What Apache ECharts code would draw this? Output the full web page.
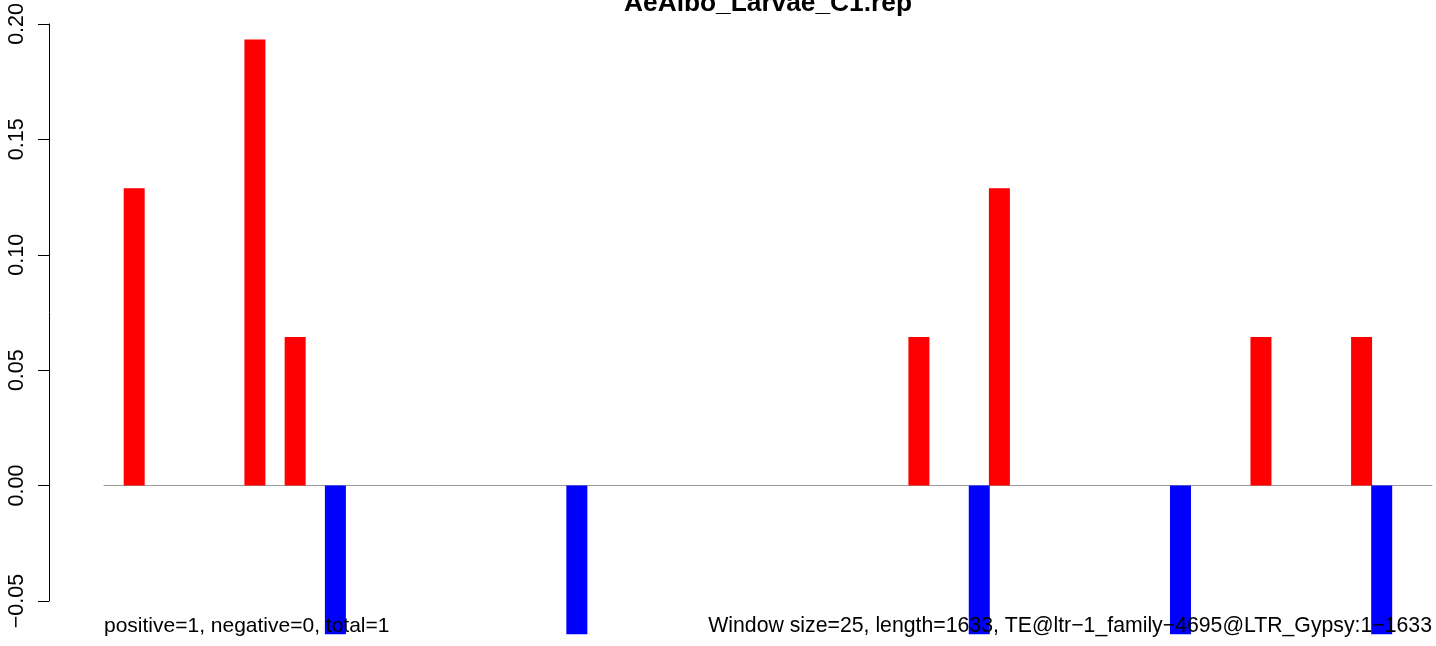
<!DOCTYPE html>
<html>
<head>
<meta charset="utf-8">
<script src="https://cdn.jsdelivr.net/npm/echarts@6/dist/echarts.min.js"></script>
<style>html,body{margin:0;padding:0;background:#fff;}#c{width:1436px;height:646px;}</style>
</head>
<body>
<div id="c"></div>
<script>
// 66 windows of 25 bp over a 1633 bp element
const windowCount = 66;
const categories = Array.from({length: windowCount}, (_, i) => String(i + 1));
// window index -> value (positive strand, red)
const positiveWindows = [1, 7, 9, 40, 44, 57, 62];
const positiveValues  = [0.1288, 0.1932, 0.0644, 0.0644, 0.1288, 0.0644, 0.0644];
// window index -> value (negative strand, blue)
const negativeWindows = [11, 23, 43, 53, 63];
const negativeValues  = [-0.0644, -0.0644, -0.0644, -0.0644, -0.0644];
const yTicks = [-0.05, 0.00, 0.05, 0.10, 0.15, 0.20];

const titleText = 'AeAlbo_Larvae_C1.rep';
const leftNote = 'positive=1, negative=0, total=1';
const rightNote = 'Window size=25, length=1633, TE@ltr\u22121_family\u22124695@LTR_Gypsy:1\u22121633';

const posData = categories.map(() => '-');
positiveWindows.forEach((w, k) => { posData[w] = positiveValues[k]; });
const negData = categories.map(() => '-');
negativeWindows.forEach((w, k) => { negData[w] = negativeValues[k]; });

const FONT = '"Liberation Sans", Arial, sans-serif';
const chart = echarts.init(document.getElementById('c'), null, {renderer: 'canvas'});
chart.setOption({
  animation: false,
  backgroundColor: '#fff',
  grid: {left: 104, right: 4, top: 22, bottom: 45, containLabel: false},
  xAxis: {
    type: 'category',
    data: categories,
    boundaryGap: true,
    axisLine: {show: true, onZero: true, lineStyle: {color: '#9a9a9a', width: 1}},
    axisTick: {show: false},
    axisLabel: {show: false},
    splitLine: {show: false}
  },
  yAxis: {
    type: 'value',
    min: -0.05, max: 0.2, interval: 0.05,
    offset: 55,
    axisLine: {show: true, lineStyle: {color: '#000', width: 1}},
    axisTick: {show: true, length: 11, lineStyle: {color: '#000'}},
    splitLine: {show: false},
    axisLabel: {
      rotate: 90, margin: 21, color: '#000', fontSize: 21.5, fontFamily: FONT,
      formatter: v => {
        const t = yTicks.find(x => Math.abs(x - v) < 1e-9);
        const s = (t === undefined ? v : t).toFixed(2);
        return s.replace('-', '\u2212');
      }
    }
  },
  series: [
    {type: 'bar', data: posData, barWidth: 21, barGap: '-100%', clip: false,
     itemStyle: {color: '#ff0000'}, silent: true},
    {type: 'bar', data: negData, barWidth: 21, barGap: '-100%', clip: false,
     itemStyle: {color: '#0000ff'}, silent: true}
  ],
  graphic: [
    {type: 'text', z: 100, style: {text: titleText, x: 768, y: 4, align: 'center', verticalAlign: 'middle',
      font: 'bold 26.3px ' + FONT, fill: '#000'}},
    {type: 'text', z: 100, style: {text: leftNote, x: 104, y: 626, align: 'left', verticalAlign: 'middle',
      font: '21px ' + FONT, fill: '#000'}},
    {type: 'text', z: 100, style: {text: rightNote, x: 1432, y: 626, align: 'right', verticalAlign: 'middle',
      font: '21.25px ' + FONT, fill: '#000'}}
  ]
});
</script>
</body>
</html>
